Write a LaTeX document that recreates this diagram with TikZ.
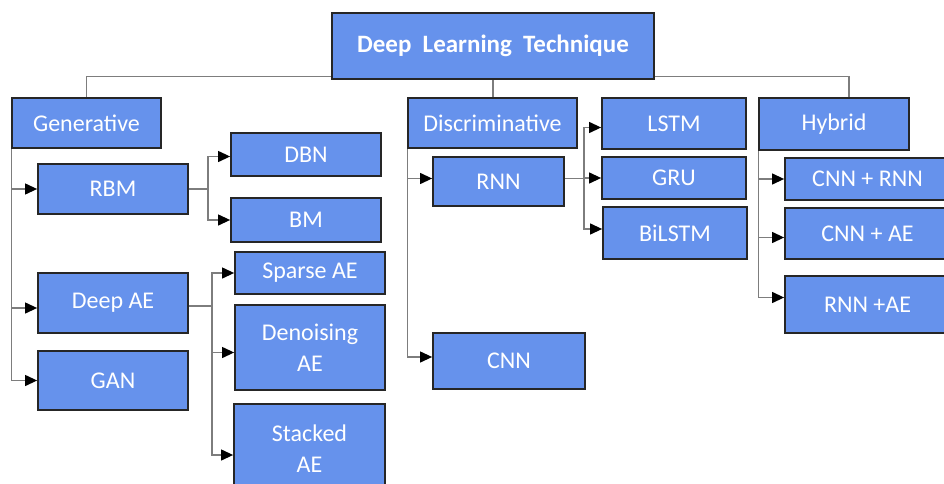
\documentclass[tikz,border=0pt]{standalone}
\usepackage{fontspec}
\setmainfont{Carlito}
\usetikzlibrary{arrows.meta,calc,backgrounds}
\definecolor{techblue}{RGB}{102,146,236}
\definecolor{linkgrey}{RGB}{125,125,125}

\begin{document}
\begin{tikzpicture}[x=1pt, y=-1pt,
  tech/.style={draw=black!85, line width=1.8pt, fill=techblue, text=white,
    font=\fontsize{24}{31}\selectfont, align=center, inner sep=0pt},
  link/.style={draw=linkgrey, line width=1.2pt},
  arrowlink/.style={link, -{Triangle[length=12pt, width=11pt, color=black]}}]
  \useasboundingbox (0,0) rectangle (944,484);

  % root
  \node[tech, minimum width=322pt, minimum height=66pt, font=\fontsize{25}{30}\selectfont\bfseries] (root) at (493,46) {Deep\hspace{0.45em}Learning\hspace{0.45em}Technique};

  % generative branch
  \node[tech, minimum width=149pt, minimum height=50pt] (gen) at (86.5,123) {Generative};
  \node[tech, minimum width=150pt, minimum height=50pt] (rbm) at (113,189) {RBM};
  \node[tech, minimum width=150pt, minimum height=43pt] (dbn) at (306,154.5) {DBN};
  \node[tech, minimum width=150pt, minimum height=44pt] (bm) at (306,220) {BM};
  \node[tech, minimum width=150pt, minimum height=60pt] (deepae) at (113,303) {Deep AE};
  \node[tech, minimum width=150pt, minimum height=59pt] (gan) at (113,380.5) {GAN};
  \node[tech, minimum width=150pt, minimum height=42pt] (sparse) at (310,273) {Sparse AE};
  \node[tech, minimum width=150pt, minimum height=85pt] (denoise) at (310,347.5) {Denoising\\AE};
  \node[tech, minimum width=151pt, minimum height=90pt] (stacked) at (309.5,449) {Stacked\\AE};

  % discriminative branch
  \node[tech, minimum width=169pt, minimum height=50pt] (disc) at (492.5,123) {Discriminative};
  \node[tech, minimum width=131pt, minimum height=49pt] (rnn) at (498.5,181.5) {RNN};
  \node[tech, minimum width=152pt, minimum height=56pt] (cnn) at (509,361) {CNN};
  \node[tech, minimum width=144pt, minimum height=51pt] (lstm) at (674,123.5) {LSTM};
  \node[tech, minimum width=144pt, minimum height=42pt] (gru) at (674,178) {GRU};
  \node[tech, minimum width=144pt, minimum height=52pt] (bilstm) at (675,233) {BiLSTM};

  % hybrid branch
  \node[tech, minimum width=150pt, minimum height=52pt] (hyb) at (834,124) {Hybrid};
  \node[tech, minimum width=165pt, minimum height=42pt] (cnnrnn) at (867.5,179) {CNN + RNN};
  \node[tech, minimum width=165pt, minimum height=51pt] (cnnae) at (867.5,233.5) {CNN + AE};
  \node[tech, minimum width=165pt, minimum height=57pt] (rnnae) at (867.5,304.5) {RNN +AE};

  \coordinate (hybtop) at ([xshift=15pt]hyb.north);
  \coordinate (rbmsplit) at ([xshift=19pt]rbm.east);
  \coordinate (aesplit) at ([xshift=23pt, yshift=-3pt]deepae.east);
  \coordinate (rnnsplit) at ([xshift=19pt, yshift=3pt]rnn.east);

  \begin{scope}[on background layer]
    \draw[link] (gen.north) |- ([yshift=3pt]root.south) -| (hybtop);
    \draw[link] (root.south) -- (root.south |- disc.north);
    % generative
    \draw[arrowlink] (gen.south west) |- (rbm.west);
    \draw[arrowlink] (gen.south west) |- ([yshift=-5pt]deepae.west);
    \draw[arrowlink] (gen.south west) |- (gan.west);
    \draw[link] (rbm.east) -- (rbmsplit);
    \draw[arrowlink] (rbmsplit) |- ([yshift=-2pt]dbn.west);
    \draw[arrowlink] (rbmsplit) |- (bm.west);
    \draw[link] ([yshift=-3pt]deepae.east) -- (aesplit);
    \draw[arrowlink] (aesplit) |- (sparse.west);
    \draw[arrowlink] (aesplit) |- ([yshift=-5pt]denoise.west);
    \draw[arrowlink] (aesplit) |- ([yshift=-6pt]stacked.west);
    % discriminative
    \draw[arrowlink] (disc.south west) |- ([yshift=3pt]rnn.west);
    \draw[arrowlink] (disc.south west) |- ([yshift=4pt]cnn.west);
    \draw[link] ([yshift=3pt]rnn.east) -- (rnnsplit);
    \draw[arrowlink] (rnnsplit) |- ([yshift=-4pt]lstm.west);
    \draw[arrowlink] (rnnsplit) |- (gru.west);
    \draw[arrowlink] (rnnsplit) |- ([yshift=4pt]bilstm.west);
    % hybrid
    \draw[arrowlink] (hyb.south west) |- (cnnrnn.west);
    \draw[arrowlink] (hyb.south west) |- ([yshift=-4pt]cnnae.west);
    \draw[arrowlink] (hyb.south west) |- ([yshift=7pt]rnnae.west);
  \end{scope}
\end{tikzpicture}
\end{document}
